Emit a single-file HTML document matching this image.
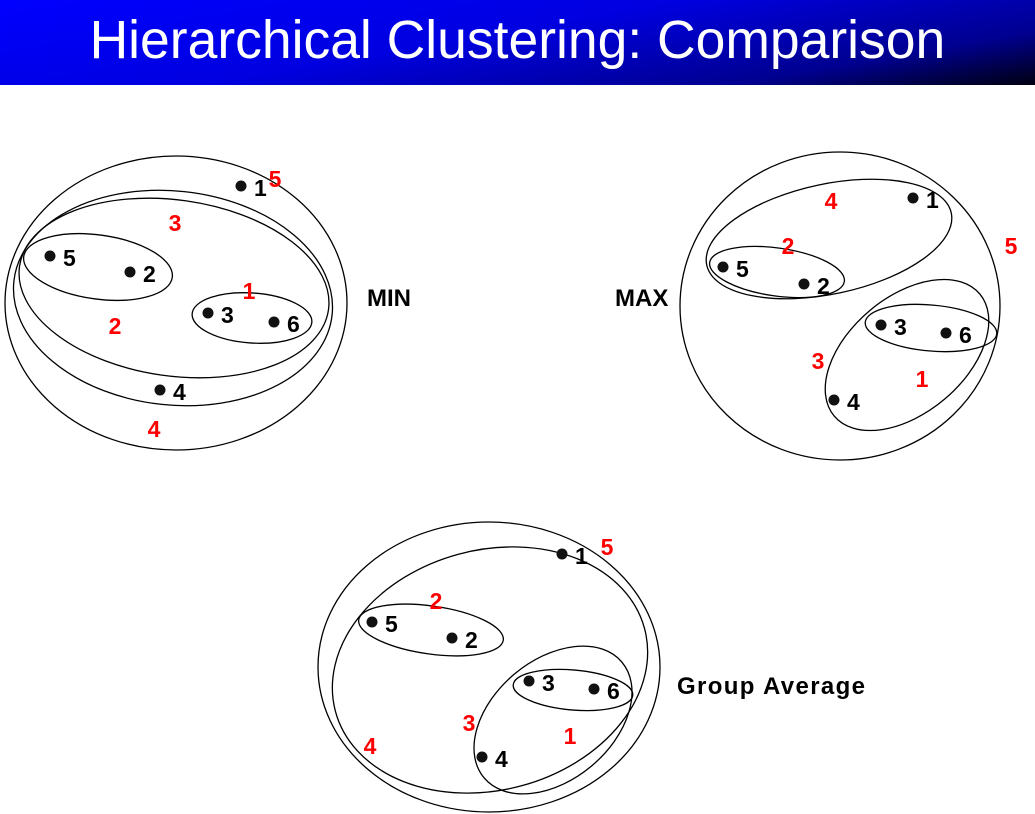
<!DOCTYPE html>
<html><head><meta charset="utf-8"><style>
body{margin:0;width:1035px;height:814px;background:#fff;overflow:hidden;font-family:"Liberation Sans",sans-serif}
#hdr{position:absolute;left:0;top:0;width:1035px;height:85px;background:linear-gradient(170deg,#0000ff 0%,#0000e0 45%,#000090 80%,#000010 100%)}
#title{position:absolute;left:0;top:9px;width:1035px;text-align:center;color:#fff;font-size:54px;white-space:nowrap;transform:scaleX(0.99);transform-origin:510px 0}
svg{position:absolute;left:0;top:0}
</style></head><body>
<div id="hdr"><div id="title">Hierarchical Clustering: Comparison</div></div>
<svg width="1035" height="814" fill="none" stroke="#000" stroke-width="1.3">
<g>
<ellipse cx="176" cy="303" rx="171" ry="147"/>
<ellipse cx="173" cy="298" rx="160" ry="107" transform="rotate(6 173 298)"/>
<ellipse cx="174" cy="288" rx="156" ry="88" transform="rotate(8 174 288)"/>
<ellipse cx="98" cy="267" rx="75" ry="32" transform="rotate(8 98 267)"/>
<ellipse cx="252" cy="318" rx="60" ry="25" transform="rotate(4 252 318)"/>
</g>
<g>
<ellipse cx="840" cy="306" rx="160" ry="154"/>
<ellipse cx="829" cy="239" rx="125" ry="55" transform="rotate(-12 829 239)"/>
<ellipse cx="777" cy="272" rx="68" ry="24" transform="rotate(8 777 272)"/>
<ellipse cx="907" cy="355" rx="95" ry="58" transform="rotate(-40 907 355)"/>
<ellipse cx="931" cy="328" rx="66" ry="23" transform="rotate(5 931 328)"/>
</g>
<g>
<ellipse cx="489" cy="667" rx="171" ry="145"/>
<ellipse cx="490" cy="670" rx="160" ry="120" transform="rotate(-15 490 670)"/>
<ellipse cx="431" cy="630" rx="73" ry="24" transform="rotate(8 431 630)"/>
<ellipse cx="553" cy="720" rx="90" ry="60" transform="rotate(-40 553 720)"/>
<ellipse cx="573" cy="690" rx="60" ry="20" transform="rotate(5 573 690)"/>
</g>
<g id="pts" stroke="none"></g>
<g font-family="Liberation Sans, sans-serif" font-weight="bold" font-size="24" stroke="none">
<text x="367" y="306" fill="#000">MIN</text>
<text x="615" y="306" fill="#000">MAX</text>
<text x="677" y="694" fill="#000" textLength="188">Group Average</text>
</g>
<g id="red" font-family="Liberation Sans, sans-serif" font-weight="bold" font-size="23" fill="#f00" stroke="none" text-anchor="middle"></g>
</svg>
<script>
const pointIds=["1","2","3","4","5","6"];
const minPts=[[241,186],[130,272],[208,313],[160,390],[50,256],[274,322]];
const maxPts=[[913,198],[804,284],[881,325],[834,400],[723,267],[946,333]];
const avgPts=[[562,554],[452,638],[529,681],[482,757],[372,622],[594,689]];
const mergeOrder=["1","2","3","4","5"];
const minMerge=[[249,290],[115,325],[175,222],[154,428],[275,178]];
const maxMerge=[[922,378],[788,245],[818,360],[831,200],[1011,245]];
const avgMerge=[[570,735],[436,600],[469,722],[370,745],[607,546]];
const NS="http://www.w3.org/2000/svg";
const pg=document.getElementById('pts'), rg=document.getElementById('red');
[["min",minPts],["max",maxPts],["avg",avgPts]].forEach(([n,arr])=>{
 arr.forEach((p,i)=>{
  const c=document.createElementNS(NS,'circle');
  c.setAttribute('cx',p[0]);c.setAttribute('cy',p[1]);c.setAttribute('r',5.5);c.setAttribute('fill','#111');
  
  
  pg.appendChild(c);
  const t=document.createElementNS(NS,'text');
  t.setAttribute('x',p[0]+13);t.setAttribute('y',p[1]+10);t.setAttribute('fill','#000');
  t.setAttribute('font-family','Liberation Sans, sans-serif');t.setAttribute('font-weight','bold');t.setAttribute('font-size','23');
  t.textContent=pointIds[i];
  
  
  pg.appendChild(t);
 });
});
[minMerge,maxMerge,avgMerge].forEach(arr=>{
 arr.forEach((p,i)=>{
  const t=document.createElementNS(NS,'text');
  t.setAttribute('x',p[0]);t.setAttribute('y',p[1]+9);
  t.textContent=mergeOrder[i];
  
  
  rg.appendChild(t);
 });
});
</script>
</body></html>
